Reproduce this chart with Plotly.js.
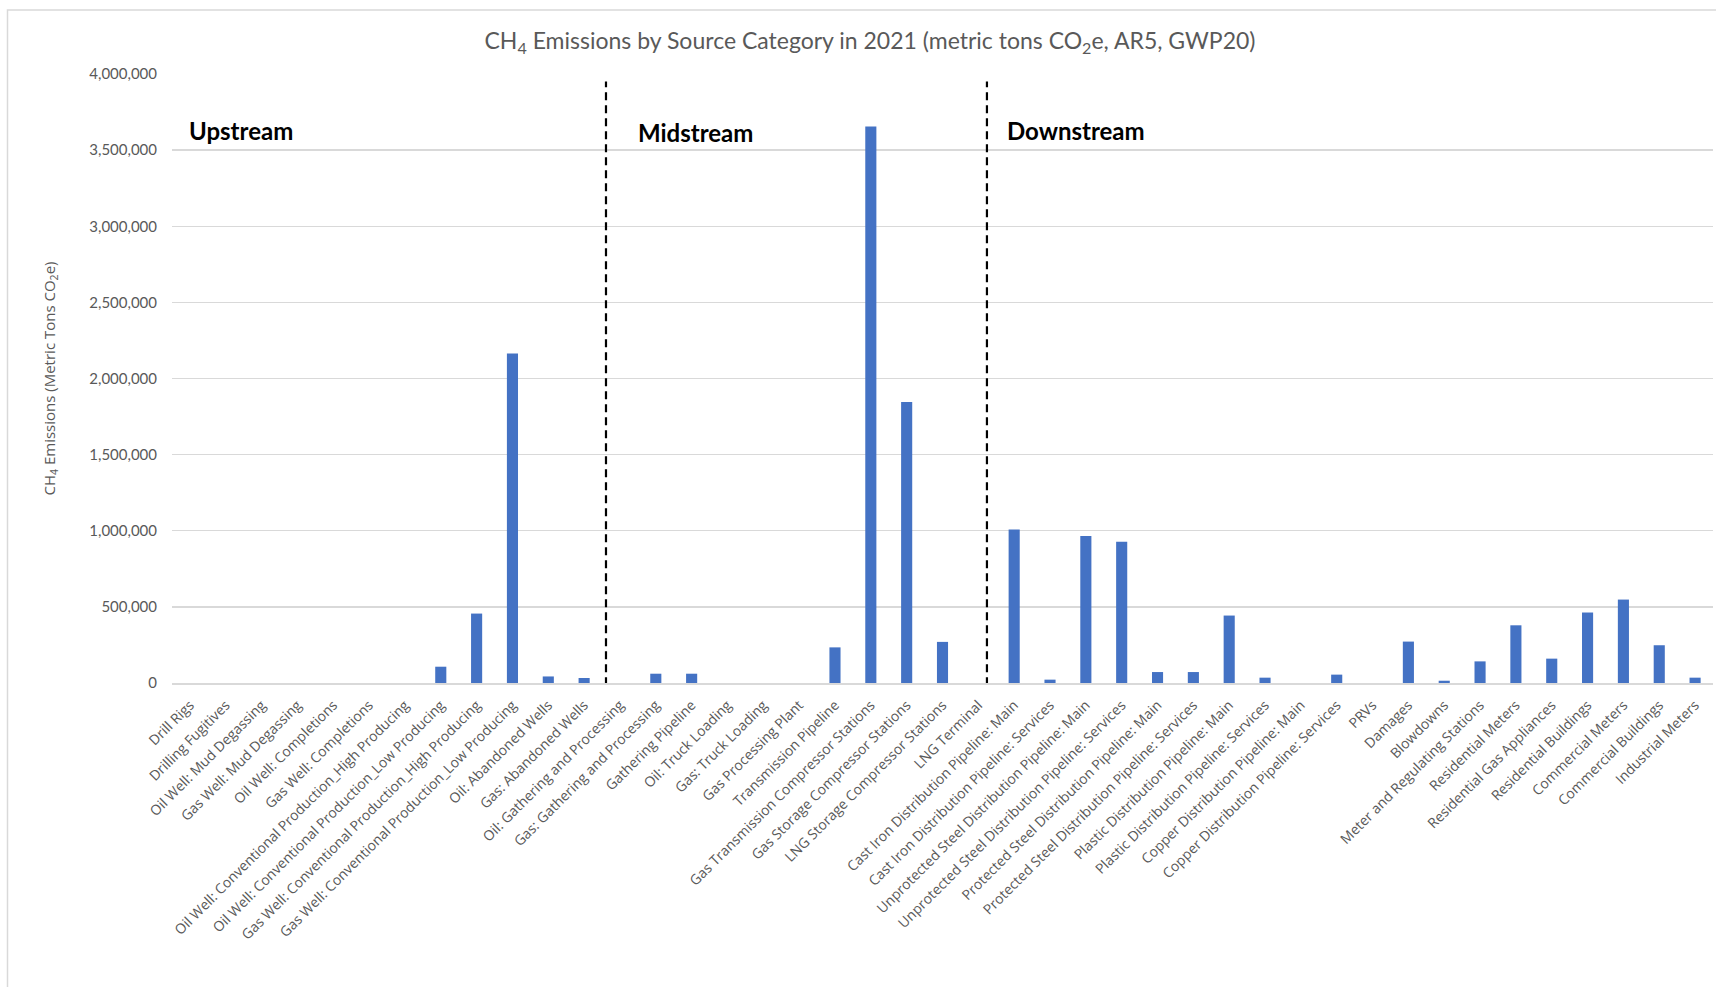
<!DOCTYPE html>
<html>
<head>
<meta charset="utf-8">
<script src="https://cdn.plot.ly/plotly-3.0.1.min.js"></script>
<style>
  html, body { margin: 0; padding: 0; background: #ffffff; }
  #chart { width: 1716px; height: 987px; }
</style>
</head>
<body>
<div id="chart"></div>
<script>
// Source categories along the supply chain
const categories = [
  "Drill Rigs",
  "Drilling Fugitives",
  "Oil Well: Mud Degassing",
  "Gas Well: Mud Degassing",
  "Oil Well: Completions",
  "Gas Well: Completions",
  "Oil Well: Conventional Production_High Producing",
  "Oil Well: Conventional Production_Low Producing",
  "Gas Well: Conventional Production_High Producing",
  "Gas Well: Conventional Production_Low Producing",
  "Oil: Abandoned Wells",
  "Gas: Abandoned Wells",
  "Oil: Gathering and Processing",
  "Gas: Gathering and Processing",
  "Gathering Pipeline",
  "Oil: Truck Loading",
  "Gas: Truck Loading",
  "Gas Processing Plant",
  "Transmission Pipeline",
  "Gas Transmission Compressor Stations",
  "Gas Storage Compressor Stations",
  "LNG Storage Compressor Stations",
  "LNG Terminal",
  "Cast Iron Distribution Pipeline: Main",
  "Cast Iron Distribution Pipeline: Services",
  "Unprotected Steel Distribution Pipeline: Main",
  "Unprotected Steel Distribution Pipeline: Services",
  "Protected Steel Distribution Pipeline: Main",
  "Protected Steel Distribution Pipeline: Services",
  "Plastic Distribution Pipeline: Main",
  "Plastic Distribution Pipeline: Services",
  "Copper Distribution Pipeline: Main",
  "Copper Distribution Pipeline: Services",
  "PRVs",
  "Damages",
  "Blowdowns",
  "Meter and Regulating Stations",
  "Residential Meters",
  "Residential Gas Appliances",
  "Residential Buildings",
  "Commercial Meters",
  "Commercial Buildings",
  "Industrial Meters"
];

// CH4 emissions, metric tons CO2e (AR5, GWP20)
const emissions = [
  0, 0, 0, 0, 0, 0,
  0, 107000, 456000, 2164000,
  43000, 33000,
  0, 61000, 61000, 0, 0, 0,
  234000, 3655000, 1846000, 270000, 0,
  1009000, 22000, 965000, 928000,
  72000, 72000, 443000, 35000,
  0, 55000,
  0, 272000, 15000, 142000,
  379000, 160000, 463000, 548000, 248000, 35000
];

// Segment labels
const segments = ["Upstream", "Midstream", "Downstream"];

// Y axis ticks
const yTickValues = [0, 500000, 1000000, 1500000, 2000000, 2500000, 3000000, 3500000, 4000000];
const yTickLabels = ["0", "500,000", "1,000,000", "1,500,000", "2,000,000", "2,500,000", "3,000,000", "3,500,000", "4,000,000"];

const FONT = "Lato, 'Open Sans', sans-serif";
const FONT_WIDE = "'Open Sans', Lato, sans-serif";
const GREY = "#595959";

// Plot area in pixels
const L = 172, R = 3, T = 74, B = 304;
const W = 1716, H = 987;
const plotW = W - L - R, plotH = H - T - B;
const px = v => (v - L) / plotW;          // pixel x -> paper x
const py = v => (H - B - v) / plotH;      // pixel y -> paper y

const trace = {
  type: "bar",
  x: categories,
  y: emissions,
  marker: { color: "#4472C4", line: { width: 0 } },
  hoverinfo: "x+y"
};

// Dashed dividers between the segments
const divider = (xv) => ({
  type: "line", xref: "x", yref: "y",
  x0: xv, x1: xv, y0: -15000, y1: 3950000,
  line: { color: "#000000", width: 2.2, dash: "8px,5px" }
});

const segLabel = (text, xPix, yPix) => ({
  text: "<b>" + text + "</b>",
  xref: "paper", yref: "paper",
  x: px(xPix), y: py(yPix),
  xanchor: "left", yanchor: "middle",
  showarrow: false,
  font: { family: FONT, size: 24, color: "#000000" }
});

const layout = {
  width: W, height: H,
  margin: { l: L, r: R, t: T, b: B, pad: 0 },
  paper_bgcolor: "#ffffff",
  plot_bgcolor: "#ffffff",
  showlegend: false,
  bargap: 0.69,
  title: {
    text: "CH<sub>4</sub> Emissions by Source Category in 2021 (metric tons CO<sub>2</sub>e, AR5, GWP20)",
    font: { family: FONT, size: 23, color: GREY },
    xref: "paper", x: px(870), xanchor: "center",
    yref: "container", y: 1 - 41 / H, yanchor: "middle"
  },
  xaxis: {
    type: "category",
    range: [-0.5, categories.length - 0.5],
    tickangle: -45,
    tickfont: { family: FONT_WIDE, size: 14, color: GREY },
    ticklabelstandoff: 7,
    showgrid: false,
    showline: true, linecolor: "#D9D9D9", linewidth: 1.5,
    ticks: "",
    automargin: false,
    fixedrange: true
  },
  yaxis: {
    range: [0, 4000000],
    tickvals: yTickValues,
    ticktext: yTickLabels,
    tickfont: { family: FONT, size: 15, color: GREY },
    ticklabelstandoff: 14,
    showgrid: true, gridcolor: "#D9D9D9", gridwidth: 1.3,
    zeroline: false,
    showline: false,
    ticks: "",
    automargin: false,
    fixedrange: true,
    title: {
      text: "CH<sub>4</sub> Emissions (Metric Tons CO<sub>2</sub>e)",
      font: { family: FONT_WIDE, size: 15, color: GREY },
      standoff: 30
    }
  },
  shapes: [
    // chart border
    {
      type: "rect", xref: "paper", yref: "paper", layer: "below",
      x0: px(7.5), x1: px(1760), y0: py(1020), y1: py(10),
      line: { color: "#D9D9D9", width: 1.5 }, fillcolor: "rgba(0,0,0,0)"
    },
    divider(11.61),
    divider(22.24)
  ],
  annotations: [
    segLabel(segments[0], 187, 130),
    segLabel(segments[1], 636, 132),
    segLabel(segments[2], 1005, 130)
  ]
};

Plotly.newPlot("chart", [trace], layout, { staticPlot: true, displayModeBar: false });
</script>
</body>
</html>
